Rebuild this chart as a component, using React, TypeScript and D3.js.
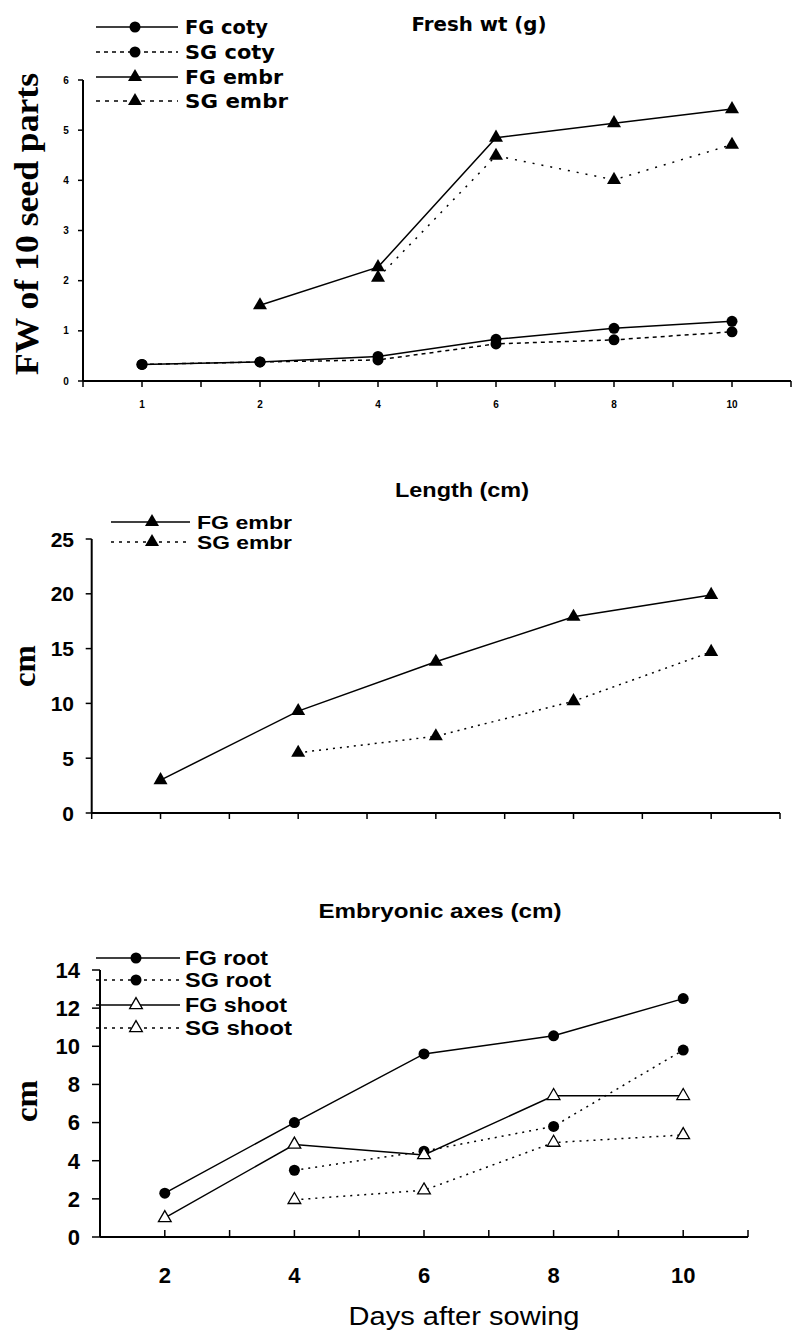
import React from 'react'
import * as d3 from 'd3'

// --- data ---
const daysFw = ['1', '2', '4', '6', '8', '10']
const fgCotyFw = [0.33, 0.38, 0.49, 0.83, 1.05, 1.19]
const sgCotyFw = [0.33, 0.38, 0.42, 0.74, 0.82, 0.98]
const fgEmbrFw = [null, 1.51, 2.27, 4.85, 5.14, 5.42]
const sgEmbrFw = [null, null, 2.06, 4.49, 4.01, 4.71]
const fwTicks = [0, 1, 2, 3, 4, 5, 6]

const daysLen = ['2', '4', '6', '8', '10']
const fgEmbrLen = [3.0, 9.3, 13.8, 17.9, 19.9]
const sgEmbrLen = [null, 5.5, 7.0, 10.2, 14.7]
const lenTicks = [0, 5, 10, 15, 20, 25]

const daysAx = ['2', '4', '6', '8', '10']
const fgRoot = [2.3, 6.0, 9.6, 10.55, 12.5]
const sgRoot = [null, 3.5, 4.5, 5.8, 9.8]
const fgShoot = [1.0, 4.85, 4.3, 7.4, 7.4]
const sgShoot = [null, 1.95, 2.45, 4.95, 5.35]
const axTicks = [0, 2, 4, 6, 8, 10, 12, 14]

const width = 794
const height = 1332

const circle = d3.symbol().type(d3.symbolCircle).size(95)()
const triangle = d3.symbol().type(d3.symbolTriangle).size(85)()
const openTri = d3.symbol().type(d3.symbolTriangle).size(70)()

const markerPath = (m) => (m === 'circle' ? circle : m === 'tri' ? triangle : openTri)

const Marker = ({ m, cx, cy }) => (
  <path
    d={markerPath(m)}
    transform={`translate(${cx},${cy})`}
    fill={m === 'open' ? '#fff' : '#000'}
    stroke="#000"
    strokeWidth={m === 'open' ? 1.3 : 0}
  />
)

const Series = ({ x, y, values, cats, dash, m }) => {
  const bw = x.bandwidth()
  const pts = cats.map((c, i) => [x(c) + bw / 2, values[i]])
  const line = d3.line()
    .defined(d => d[1] != null)
    .x(d => d[0])
    .y(d => y(d[1]))
  return (
    <g>
      <path d={line(pts)} fill="none" stroke="#000" strokeWidth={1.5} strokeDasharray={dash || null} />
      {pts.filter(d => d[1] != null).map((d, i) => (
        <Marker key={i} m={m} cx={d[0]} cy={y(d[1])} />
      ))}
    </g>
  )
}

const XAxis = ({ x, y0, dir, len, labels, labelY, font, size }) => {
  const bw = x.bandwidth()
  const ticks = []
  x.domain().forEach(c => {
    ticks.push(x(c))
    ticks.push(x(c) + bw / 2)
  })
  ticks.push(x.range()[1])
  return (
    <g>
      <line x1={x.range()[0]} x2={x.range()[1]} y1={y0} y2={y0} stroke="#000" strokeWidth={2} />
      {ticks.map((t, i) => (
        <line key={i} x1={t} x2={t} y1={y0} y2={y0 + dir * len} stroke="#000" strokeWidth={1.5} />
      ))}
      {labels && x.domain().map(c => (
        <text key={c} x={x(c) + bw / 2} y={labelY} textAnchor="middle" fontFamily={font}
          fontWeight="bold" fontSize={size}>{c}</text>
      ))}
    </g>
  )
}

const YAxis = ({ y, x0, ticks, len, labelX, font, size, anchor }) => (
  <g>
    <line x1={x0} x2={x0} y1={y.range()[0]} y2={y.range()[1]} stroke="#000" strokeWidth={2} />
    {ticks.map(t => (
      <g key={t}>
        <line x1={x0 - len} x2={x0} y1={y(t)} y2={y(t)} stroke="#000" strokeWidth={1.5} />
        <text x={labelX} y={y(t)} dy="0.36em" textAnchor={anchor} fontFamily={font}
          fontWeight="bold" fontSize={size}>{t}</text>
      </g>
    ))}
  </g>
)

const Legend = ({ items, x1, x2, mx, tx, rows, font, size, lens }) => (
  <g>
    {items.map((it, i) => (
      <g key={it.label}>
        <line x1={x1} x2={x2} y1={rows[i]} y2={rows[i]} stroke="#000" strokeWidth={1.5}
          strokeDasharray={it.dash || null} />
        <Marker m={it.m} cx={mx} cy={rows[i]} />
        <text x={tx} y={rows[i]} dy="0.36em" fontFamily={font} fontWeight="bold" fontSize={size}
          textLength={lens[i]} lengthAdjust="spacingAndGlyphs">{it.label}</text>
      </g>
    ))}
  </g>
)

const YTitle = ({ text, cx, cy, size, len }) => (
  <text transform={`translate(${cx},${cy}) rotate(-90)`} textAnchor="middle" dy="0.35em"
    fontFamily="'Liberation Serif', 'Times New Roman', serif" fontWeight="bold" fontSize={size}
    textLength={len} lengthAdjust="spacingAndGlyphs">{text}</text>
)

const sans = "'Liberation Sans', Arial, sans-serif"
const deja = "'DejaVu Sans', sans-serif"
const narrow = "'Liberation Sans Narrow', 'Arial Narrow', 'Liberation Sans', sans-serif"

export default function App() {
  // panel 1: fresh weight
  const x1 = d3.scaleBand().domain(daysFw).range([83, 791])
  const y1 = d3.scaleLinear().domain([0, 6]).range([381, 80])
  // panel 2: length
  const x2 = d3.scaleBand().domain(daysLen).range([91.7, 780])
  const y2 = d3.scaleLinear().domain([0, 25]).range([813, 539])
  // panel 3: embryonic axes
  const x3 = d3.scaleBand().domain(daysAx).range([100, 748])
  const y3 = d3.scaleLinear().domain([0, 14]).range([1237, 970])

  return (
    <svg width={width} height={height} style={{ position: 'absolute', left: 0, top: 0, background: '#fff' }}>
      <rect width={width} height={height} fill="#fff" />

      {/* ---- Fresh wt ---- */}
      <text x={479} y={31} textAnchor="middle" fontFamily={deja} fontWeight="bold" fontSize={19}
        textLength={135} lengthAdjust="spacingAndGlyphs">Fresh wt (g)</text>
      <YTitle text="FW of 10 seed parts" cx={26} cy={224} size={33} len={302} />
      <XAxis x={x1} y0={381} dir={1} len={6} labels labelY={408} font={narrow} size={10} />
      <YAxis y={y1} x0={83} ticks={fwTicks} len={5} labelX={66} font={narrow} size={10} anchor="middle" />
      <Series x={x1} y={y1} cats={daysFw} values={fgCotyFw} m="circle" />
      <Series x={x1} y={y1} cats={daysFw} values={sgCotyFw} m="circle" dash="4,4" />
      <Series x={x1} y={y1} cats={daysFw} values={fgEmbrFw} m="tri" />
      <Series x={x1} y={y1} cats={daysFw} values={sgEmbrFw} m="tri" dash="2,7" />
      <Legend
        items={[
          { label: 'FG coty', m: 'circle' },
          { label: 'SG coty', m: 'circle', dash: '4,4' },
          { label: 'FG embr', m: 'tri' },
          { label: 'SG embr', m: 'tri', dash: '4,5' },
        ]}
        x1={96} x2={178} mx={135} tx={185} rows={[27, 52, 77, 101]} font={deja} size={19}
        lens={[83, 90, 98, 103]}
      />

      {/* ---- Length ---- */}
      <text x={462} y={497} textAnchor="middle" fontFamily={sans} fontWeight="bold" fontSize={20}
        textLength={134} lengthAdjust="spacingAndGlyphs">Length (cm)</text>
      <YTitle text="cm" cx={24} cy={666} size={32} len={42} />
      <XAxis x={x2} y0={813} dir={1} len={6} />
      <YAxis y={y2} x0={91.7} ticks={lenTicks} len={6} labelX={74} font={sans} size={21} anchor="end" />
      <Series x={x2} y={y2} cats={daysLen} values={fgEmbrLen} m="tri" />
      <Series x={x2} y={y2} cats={daysLen} values={sgEmbrLen} m="tri" dash="2,5" />
      <Legend
        items={[
          { label: 'FG embr', m: 'tri' },
          { label: 'SG embr', m: 'tri', dash: '3,5' },
        ]}
        x1={111} x2={190} mx={152} tx={197} rows={[522, 542]} font={sans} size={19}
        lens={[95, 95]}
      />

      {/* ---- Embryonic axes ---- */}
      <text x={440} y={918} textAnchor="middle" fontFamily={sans} fontWeight="bold" fontSize={21}
        textLength={243} lengthAdjust="spacingAndGlyphs">Embryonic axes (cm)</text>
      <YTitle text="cm" cx={26} cy={1101} size={32} len={42} />
      <XAxis x={x3} y0={1237} dir={-1} len={7} labels labelY={1283} font={sans} size={22} />
      <YAxis y={y3} x0={100} ticks={axTicks} len={8} labelX={80} font={sans} size={22} anchor="end" />
      <Series x={x3} y={y3} cats={daysAx} values={fgRoot} m="circle" />
      <Series x={x3} y={y3} cats={daysAx} values={sgRoot} m="circle" dash="2,5" />
      <Series x={x3} y={y3} cats={daysAx} values={fgShoot} m="open" />
      <Series x={x3} y={y3} cats={daysAx} values={sgShoot} m="open" dash="2,5" />
      <Legend
        items={[
          { label: 'FG root', m: 'circle' },
          { label: 'SG root', m: 'circle', dash: '3,5' },
          { label: 'FG shoot', m: 'open' },
          { label: 'SG shoot', m: 'open', dash: '3,5' },
        ]}
        x1={96} x2={180} mx={136} tx={185} rows={[958, 980, 1005, 1028]} font={sans} size={20}
        lens={[83, 86, 102, 107]}
      />
      <text x={464} y={1325} textAnchor="middle" fontFamily={sans} fontSize={25}
        textLength={231} lengthAdjust="spacingAndGlyphs">Days after sowing</text>
    </svg>
  )
}
